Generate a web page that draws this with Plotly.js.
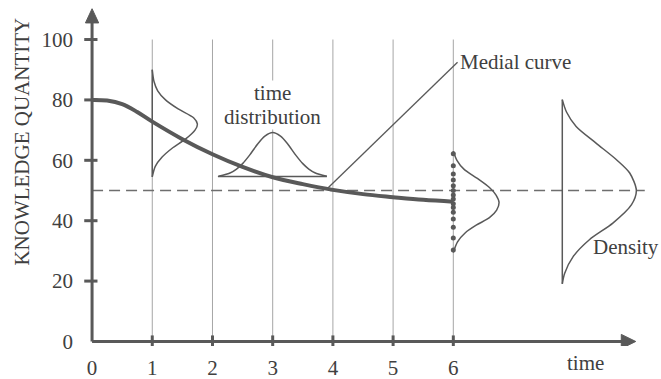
<!DOCTYPE html>
<html>
<head>
<meta charset="utf-8">
<script src="https://cdn.plot.ly/plotly-3.0.1.min.js"></script>
<style>html,body{margin:0;padding:0;background:#fff;}#chart{width:661px;height:379px;}</style>
</head>
<body>
<div id="chart"></div>
<script>
// ---- data ----
const xTicks = [0, 1, 2, 3, 4, 5, 6];
const yTicks = [0, 20, 40, 60, 80, 100];
const gridX = [1, 2, 3, 4, 5, 6];

// medial (mean) knowledge curve
const curveX = [0, 0.25, 0.5, 0.75, 1, 1.5, 2, 2.5, 3, 3.5, 4, 4.5, 5, 5.5, 6];
const curveY = [80, 79.8, 78.6, 76, 72.8, 67, 62, 57.8, 54.4, 52.1, 50.2, 48.8, 47.8, 46.9, 46.3];

// distribution at t = 1 (offset to the right of x = 1)
const dist1Y   = [90, 86, 83, 80, 77, 74, 72, 70, 67, 64, 61, 58, 54.5];
const dist1Off = [0, 0.03, 0.09, 0.22, 0.43, 0.69, 0.75, 0.71, 0.55, 0.33, 0.16, 0.05, 0];

// time distribution around t = 3
const timeDistX = [2.1, 2.3, 2.4, 2.5, 2.62, 2.75, 2.87, 3.0, 3.13, 3.25, 3.38, 3.5, 3.6, 3.7, 3.9];
const timeDistY = [54.7, 55.9, 57.1, 58.9, 61.8, 65.4, 68.0, 69.2, 68.0, 65.4, 61.8, 58.9, 57.1, 55.9, 54.7];
const timeBaseX = [2.09, 3.9];
const timeBaseY = [54.6, 54.6];

// distribution at t = 6
const dist6Y   = [63, 60, 57, 54, 51, 48.5, 46, 43.5, 41, 38.5, 36, 33, 29.5];
const dist6Off = [0, 0.06, 0.18, 0.40, 0.60, 0.71, 0.76, 0.72, 0.60, 0.38, 0.20, 0.07, 0];
// sample dots on t = 6
const dotsY = [62.2, 58.2, 55.5, 53.5, 51.6, 50.0, 48.5, 47.2, 45.6, 44.4, 42.8, 40.6, 37.8, 34.3, 30.3];

// density curve
const densBaseX = 7.81;
const densY   = [80.1, 76, 71.2, 65.7, 60.2, 55.8, 50, 45.3, 39.2, 33.7, 28.1, 22.6, 19.1];
const densOff = [0, 0.07, 0.23, 0.56, 0.90, 1.12, 1.23, 1.15, 0.84, 0.45, 0.18, 0.04, 0];

// callout line for "Medial curve"
const calloutX = [3.9, 6.07];
const calloutY = [50.5, 92.5];

// ---- styles ----
const DARK = '#595959';
const TXT = '#404040';
const FONT = '"Liberation Serif", "Times New Roman", serif';

const traces = [
  {x: curveX, y: curveY, mode: 'lines', line: {color: DARK, width: 4, shape: 'spline'}},
  {x: dist1Off.map(o => 1 + o), y: dist1Y, mode: 'lines', line: {color: DARK, width: 1.5, shape: 'spline', smoothing: 0.8}},
  {x: [1, 1], y: [dist1Y[0], dist1Y[dist1Y.length - 1]], mode: 'lines', line: {color: DARK, width: 1.5}},
  {x: timeDistX, y: timeDistY, mode: 'lines', line: {color: DARK, width: 1.5, shape: 'spline', smoothing: 0.8}},
  {x: timeBaseX, y: timeBaseY, mode: 'lines', line: {color: DARK, width: 1.5}},
  {x: dist6Off.map(o => 6 + o), y: dist6Y, mode: 'lines', line: {color: DARK, width: 1.5, shape: 'spline', smoothing: 0.8}},
  {x: dotsY.map(() => 6), y: dotsY, mode: 'markers', marker: {color: DARK, size: 5}},
  {x: densOff.map(o => densBaseX + o), y: densY, mode: 'lines', line: {color: DARK, width: 1.5, shape: 'spline', smoothing: 0.8}},
  {x: [densBaseX, densBaseX], y: [densY[0], densY[densY.length - 1]], mode: 'lines', line: {color: DARK, width: 1.5}},
  {x: calloutX, y: calloutY, mode: 'lines', line: {color: DARK, width: 1.3}}
];

const shapes = [];
// grid lines
gridX.forEach(g => shapes.push({type: 'line', xref: 'x', yref: 'y', x0: g, x1: g, y0: 0, y1: 100, layer: 'below', line: {color: '#a6a6a6', width: 1}}));
// dashed reference line at 50
shapes.push({type: 'line', xref: 'x', yref: 'y', x0: 0, x1: 9.18, y0: 50, y1: 50, layer: 'below', line: {color: '#6e6e6e', width: 1.3, dash: '11px,6px'}});
// axes
shapes.push({type: 'line', xref: 'x', yref: 'y', x0: 0, x1: 8.85, y0: 0, y1: 0, line: {color: DARK, width: 3}});
shapes.push({type: 'line', xref: 'x', yref: 'y', x0: 0, x1: 0, y0: 0, y1: 106, line: {color: DARK, width: 3}});
shapes.push({type: 'path', xref: 'x', yref: 'y', path: 'M 8.79 2.35 L 9.03 0 L 8.79 -2.35 Z', fillcolor: DARK, line: {color: DARK, width: 1}});
shapes.push({type: 'path', xref: 'x', yref: 'y', path: 'M -0.11 105.5 L 0 110.2 L 0.11 105.5 Z', fillcolor: DARK, line: {color: DARK, width: 1}});
// tick marks crossing the axes
xTicks.filter(v => v > 0).forEach(v => shapes.push({type: 'line', xref: 'x', yref: 'y', x0: v, x1: v, y0: -1.8, y1: 2.0, line: {color: DARK, width: 3}}));
yTicks.filter(v => v > 0).forEach(v => shapes.push({type: 'line', xref: 'x', yref: 'y', x0: -0.13, x1: 0.09, y0: v, y1: v, line: {color: DARK, width: 3}}));

const annotations = [
  {x: 3, y: 82.3, xref: 'x', yref: 'y', text: 'time', showarrow: false, font: {family: FONT, size: 21, color: TXT}, bgcolor: '#ffffff', borderpad: 0},
  {x: 3, y: 74.3, xref: 'x', yref: 'y', text: 'distribution', showarrow: false, font: {family: FONT, size: 21, color: TXT}, bgcolor: '#ffffff', borderpad: 0},
  {x: 6.08, y: 92.6, xref: 'x', yref: 'y', text: 'Medial curve', xanchor: 'left', showarrow: false, font: {family: FONT, size: 21, color: TXT}},
  {x: 8.86, y: 31.4, xref: 'x', yref: 'y', text: 'Density', showarrow: false, font: {family: FONT, size: 21, color: TXT}},
  {x: 8.2, y: -0.05, xref: 'x', yref: 'paper', xanchor: 'center', yanchor: 'middle', text: 'time', showarrow: false, font: {family: FONT, size: 21, color: TXT}},
  {x: -0.0905, y: 0.595, xref: 'paper', yref: 'paper', xanchor: 'center', yanchor: 'middle', text: 'KNOWLEDGE QUANTITY', textangle: -90, showarrow: false, font: {family: FONT, size: 21, color: TXT}}
];

const layout = {
  width: 661, height: 379,
  margin: {l: 74, r: 9, t: 3, b: 33, pad: 0},
  paper_bgcolor: '#ffffff', plot_bgcolor: '#ffffff',
  showlegend: false,
  hovermode: false,
  xaxis: {range: [-0.3, 9.3], tickvals: xTicks, ticktext: xTicks.map(String), showgrid: false, zeroline: false, showline: false, ticks: '', ticklabelstandoff: 7, tickfont: {family: FONT, size: 21, color: TXT}, fixedrange: true},
  yaxis: {range: [-1.5, 112.1], tickvals: yTicks, ticktext: yTicks.map(String), showgrid: false, zeroline: false, showline: false, ticks: '', ticklabelstandoff: 0, tickfont: {family: FONT, size: 21, color: TXT}, fixedrange: true},
  shapes: shapes,
  annotations: annotations
};

Plotly.newPlot('chart', traces, layout, {staticPlot: true, displayModeBar: false});
</script>
</body>
</html>
